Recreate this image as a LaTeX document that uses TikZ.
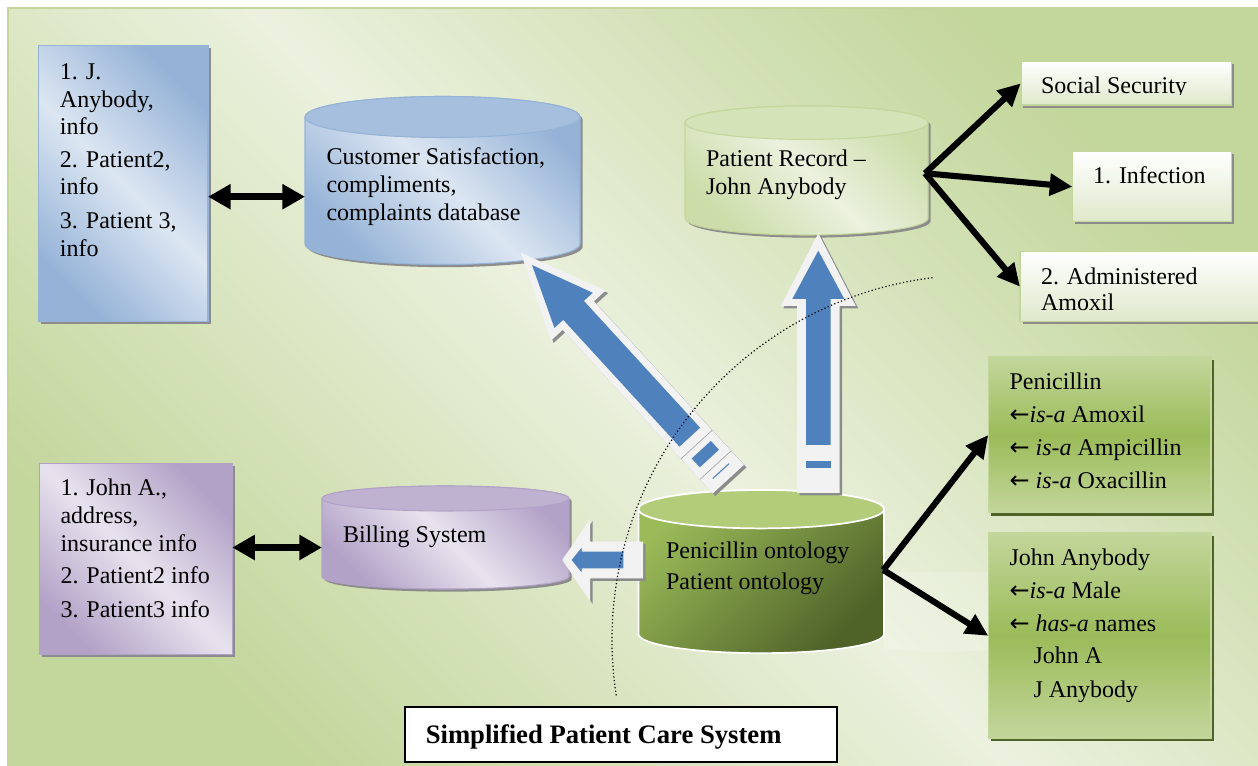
\documentclass[tikz,border=0pt]{standalone}
\usepackage{fontspec}
\setmainfont{Liberation Serif}
\newfontfamily\arrowfont{DejaVu Sans}
\usetikzlibrary{arrows.meta,calc,shadows}
\definecolor{bgdark}{HTML}{C3D69B}
\definecolor{bglight}{HTML}{EBF1DE}
\definecolor{bluedark}{HTML}{95B3D7}
\definecolor{bluelight}{HTML}{DCE6F2}
\definecolor{bluetop}{HTML}{A7BFDE}
\definecolor{purpdark}{HTML}{B3A2C7}
\definecolor{purplight}{HTML}{E7E3EE}
\definecolor{purptop}{HTML}{BFB1D0}
\definecolor{grnmid}{HTML}{CCDDAA}
\definecolor{grnlight}{HTML}{EBF1DE}
\definecolor{grntop}{HTML}{D5E3B8}
\definecolor{olive}{HTML}{9BBB59}
\definecolor{olivedark}{HTML}{4F6228}
\definecolor{olivetop}{HTML}{B3CC7A}
\definecolor{arrowblue}{HTML}{4F81BD}
\definecolor{arrowwhite}{HTML}{F2F2F2}
\definecolor{shadowgray}{HTML}{8C8C8C}
\definecolor{wbottom}{HTML}{DFE8CA}
\newcommand{\la}{{\arrowfont ←}}
\tikzset{
  txt/.style={anchor=base west, inner sep=0pt, outer sep=0pt, font=\fontsize{18}{21}\selectfont, text=black},
  boxbase/.style={anchor=north west, inner sep=0pt, outer sep=0pt, rectangle},
  diag/.style 2 args={top color=#1, bottom color=#1, middle color=#2, shading angle=-45},
  gshadow/.style={drop shadow={shadow xshift=2pt, shadow yshift=-2pt, fill=shadowgray, opacity=1}},
  oshadow/.style={drop shadow={shadow xshift=2.2pt, shadow yshift=-2.2pt, fill=olivedark, opacity=1}},
  blackarrow/.style={line width=4.6pt, -{Triangle[length=17pt,width=16pt]}},
  dblarrow/.style={line width=5pt, {Triangle[length=17pt,width=18pt]}-{Triangle[length=17pt,width=18pt]}},
  whitebox/.style={boxbase, gshadow, top color=white, bottom color=wbottom, draw=bgdark, line width=1.2pt},
  greenbox/.style={boxbase, oshadow, top color=bgdark, bottom color=bgdark, middle color=olive, draw=bgdark, line width=1.2pt},
  cylnode/.style={inner sep=0pt, outer sep=0pt, rectangle},
}
\newcommand{\drawcyl}[7]{%
  \path[#6] ({#1-#4},#2) -- ({#1-#4},#3) arc[start angle=180,end angle=0,x radius=#4,y radius=#5] -- ({#1+#4},#2) arc[start angle=0,end angle=-180,x radius=#4,y radius=#5] -- cycle;
  \path[#7] (#1,#2) ellipse[x radius=#4, y radius=#5];
}
\begin{document}
\begin{tikzpicture}[x=0.75pt,y=-0.75pt]
\useasboundingbox (0,0) rectangle (1258,766);
\fill[white] (0,0) rectangle (1258,766);
\path[top color=bgdark, bottom color=bgdark, middle color=bglight, shading angle=-45] (8,8) rectangle (1262,770);
\draw[bgdark, line width=1.5pt] (8,770) -- (8,8) -- (1262,8);

% faint perspective shadow of ontology cylinder
\path[fill=white, opacity=0.18] (884,572) -- (1000,572) -- (1000,648) .. controls (950,655) and (910,652) .. (884,648) -- cycle;

% ---------- blue box ----------
\node[boxbase, gshadow, diag={bluedark}{bluelight}, draw=bluedark, line width=1pt, minimum width=127.3pt, minimum height=207pt] (bb) at (38.3,45.7) {};
\node[txt] (bb1) at (60,80) {1. J.};
\node[txt] (bb2) at (60,107.3) {Anybody,};
\node[txt] (bb3) at (60,134.7) {info};
\node[txt] (bb4) at (60,168) {2. Patient2,};
\node[txt] (bb5) at (60,195) {info};
\node[txt] (bb6) at (60,229) {3. Patient 3,};
\node[txt] (bb7) at (60,256.5) {info};

% ---------- purple box ----------
\node[boxbase, gshadow, diag={purpdark}{purplight}, draw=purpdark, line width=1pt, minimum width=144.7pt, minimum height=143.6pt] (pb) at (39.3,463.3) {};
\node[txt] (pb1) at (60.5,495.7) {1. John A.,};
\node[txt] (pb2) at (60.5,523.3) {address,};
\node[txt] (pb3) at (60.5,551.7) {insurance info};
\node[txt] (pb4) at (60.5,584) {2. Patient2 info};
\node[txt] (pb5) at (60.5,617.3) {3. Patient3 info};

% ---------- white boxes ----------
\node[whitebox, minimum width=158.1pt, minimum height=32.5pt] (ss) at (1020.7,61.7) {};
\begin{scope}
\clip (1020,60) rectangle (1232,95);
\node[txt] (sst) at (1041,94) {Social Security};
\end{scope}
\node[whitebox, minimum width=119.3pt, minimum height=52.5pt] (inf) at (1072.4,151.7) {};
\node[txt] (inft) at (1093,184) {1. Infection};
\node[whitebox, minimum width=191.25pt, minimum height=52.5pt] (adm) at (1020,251.7) {};
\begin{scope}
\clip (1020,250) rectangle (1262,311.5);
\node[txt] (adm1) at (1041,284.5) {2. Administered};
\node[txt] (adm2) at (1041,310.5) {Amoxil};
\end{scope}

% ---------- green boxes ----------
\node[greenbox, minimum width=166.8pt, minimum height=116.55pt] (pen) at (988.3,357.3) {};
\node[txt] (pen1) at (1009.5,390) {Penicillin};
\node[txt] (pen2) at (1009.5,423) {\la\textit{is-a} Amoxil};
\node[txt] (pen3) at (1009.5,456) {\la{} \textit{is-a} Ampicillin};
\node[txt] (pen4) at (1009.5,489) {\la{} \textit{is-a} Oxacillin};
\node[greenbox, minimum width=166.8pt, minimum height=153.75pt] (john) at (988.3,533.3) {};
\node[txt] (john1) at (1009.5,566) {John Anybody};
\node[txt] (john2) at (1009.5,598.5) {\la\textit{is-a} Male};
\node[txt] (john3) at (1009.5,631.5) {\la{} \textit{has-a} names};
\node[txt] (john4) at (1033.5,664) {John A};
\node[txt] (john5) at (1033.5,697) {J Anybody};

% ---------- cylinders ----------
\drawcyl{442.5}{117}{244}{137.5}{20.5}{gshadow, diag={bluedark}{bluelight}, draw=bluedark, line width=0.8pt}{fill=bluetop, draw=bluedark, line width=0.8pt}
\node[cylnode, minimum width=206.25pt, minimum height=126pt] (cs) at (442.5,180.5) {};
\node[txt] (cs1) at (326.5,165) {Customer Satisfaction,};
\node[txt] (cs2) at (326.5,192.7) {compliments,};
\node[txt] (cs3) at (326.5,220.5) {complaints database};

\drawcyl{806.5}{122.7}{218.3}{121.5}{16.7}{gshadow, diag={grnmid}{grnlight}, draw=bgdark, line width=0.8pt}{fill=grntop, draw=bgdark, line width=0.8pt}
\node[cylnode, minimum width=182.25pt, minimum height=96.75pt] (pr) at (806.5,170.5) {};
\node[txt] (pr1) at (706,166.5) {Patient Record –};
\node[txt] (pr2) at (706,194.3) {John Anybody};

\drawcyl{445.5}{498.5}{576.5}{123.5}{12.5}{gshadow, diag={purpdark}{purplight}, draw=purpdark, line width=0.8pt}{fill=purptop, draw=purpdark, line width=0.8pt}
\node[cylnode, minimum width=185.25pt, minimum height=77.25pt] (bill) at (445.5,537.5) {};
\node[txt] (bill1) at (343,543) {Billing System};

\drawcyl{761.2}{509.2}{634}{122.8}{19.2}{top color=olive, bottom color=olivedark, shading angle=45, draw=white, line width=1.3pt}{fill=olivetop, draw=white, line width=1.3pt}
\node[cylnode, minimum width=184.2pt, minimum height=122.5pt] (onto) at (761.2,571.7) {};
\node[txt] (on1) at (666,558.3) {Penicillin ontology};
\node[txt] (on2) at (666,590) {Patient ontology};

% ---------- block arrows ----------
% diagonal: ontology -> customer satisfaction
\coordinate (da) at (728.3,479.2);
\begin{scope}[shift={(da)}, shift={(2.5,2.5)}, rotate=132.5]
  \fill[shadowgray] (0,-21.2) -- (222,-21.2) -- (222,-37) -- (307.2,0) -- (222,37) -- (222,21.2) -- (0,21.2) -- cycle;
\end{scope}
\begin{scope}[shift={(da)}, rotate=132.5]
  \fill[arrowwhite] (0,-21.2) -- (222,-21.2) -- (222,-37) -- (307.2,0) -- (222,37) -- (222,21.2) -- (0,21.2) -- cycle;
  \fill[arrowblue] (57,-14) -- (229,-14) -- (229,-26) -- (290.5,0) -- (229,26) -- (229,14) -- (57,14) -- cycle;
  \fill[arrowblue] (28,-13) rectangle (40,13);
  \draw[gray!70, line width=0.5pt] (19,-21.2) -- (19,21.2) (47,-21.2) -- (47,21.2);
  \draw[arrowblue, line width=0.8pt] (11,-11) -- (11,11);
\end{scope}
% vertical: ontology -> patient record
\coordinate (va) at (818.3,493);
\begin{scope}[shift={(va)}, shift={(2.5,2.5)}, rotate=90]
  \fill[shadowgray] (0,-21.2) -- (187,-21.2) -- (187,-37.5) -- (259.7,0) -- (187,37.5) -- (187,21.2) -- (0,21.2) -- cycle;
\end{scope}
\begin{scope}[shift={(va)}, rotate=90]
  \fill[arrowwhite] (0,-21.2) -- (187,-21.2) -- (187,-37.5) -- (259.7,0) -- (187,37.5) -- (187,21.2) -- (0,21.2) -- cycle;
  \fill[arrowblue] (48,-12.2) -- (194,-12.2) -- (194,-26) -- (242.3,0) -- (194,26) -- (194,12.2) -- (48,12.2) -- cycle;
  \fill[arrowblue] (24.7,-12.2) rectangle (32.3,12.2);
\end{scope}
% horizontal: ontology -> billing
\coordinate (ha) at (643,560);
\begin{scope}[shift={(ha)}, shift={(2.5,2.5)}, rotate=180]
  \fill[shadowgray] (0,-18.3) -- (53,-18.3) -- (53,-41.3) -- (80.7,0) -- (53,41.3) -- (53,18.3) -- (0,18.3) -- cycle;
\end{scope}
\begin{scope}[shift={(ha)}, rotate=180]
  \fill[arrowwhite] (0,-18.3) -- (53,-18.3) -- (53,-41.3) -- (80.7,0) -- (53,41.3) -- (53,18.3) -- (0,18.3) -- cycle;
  \fill[arrowblue] (19.7,-8.3) -- (61.3,-8.3) -- (61.3,-12.5) -- (71.3,0) -- (61.3,12.5) -- (61.3,8.3) -- (19.7,8.3) -- cycle;
\end{scope}

% ---------- black arrows ----------
\coordinate (ya) at (0,196.7);
\draw[dblarrow] (bb.east |- ya) -- (cs.west |- ya);
\coordinate (yb) at (0,547.5);
\draw[dblarrow] (pb.east |- yb) -- (bill.west |- yb);
\coordinate (pr-out) at (925,173.3);
\draw[blackarrow] (pr-out) -- (ss.west);
\draw[blackarrow] (pr-out) -- (inf.west);
\draw[blackarrow] (pr-out) -- (adm.west);
\coordinate (on-out) at (883.3,570);
\draw[blackarrow] (on-out) -- (pen.west);
\draw[blackarrow] (on-out) -- (john.west);

% ---------- dotted arc ----------
\draw[line width=0.9pt, dash pattern=on 0.9pt off 1.8pt] (932.5,277.7) arc[start angle=263, end angle=171, radius=365];

% ---------- title ----------
\node[boxbase, fill=white, draw=black, line width=1.5pt, minimum width=323.8pt, minimum height=41.25pt] (title) at (405,707.3) {};
\node[anchor=base west, inner sep=0pt, font=\fontsize{20}{24}\selectfont\bfseries] (titletext) at (425.5,743.3) {Simplified Patient Care System};
\end{tikzpicture}
\end{document}
